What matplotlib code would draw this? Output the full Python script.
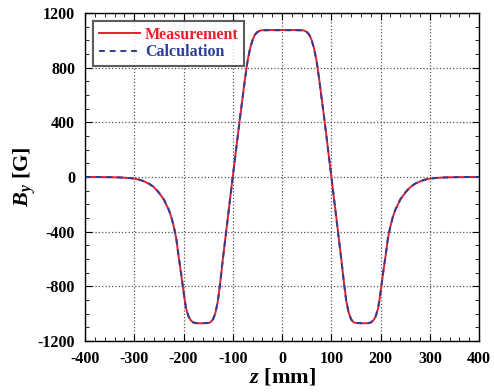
import numpy as np
import matplotlib
matplotlib.use("Agg")
import matplotlib.pyplot as plt
from matplotlib.ticker import MultipleLocator

# half profile (z >= 0), field is symmetric in z
z_half = [0, 10, 20, 30, 40, 45, 50, 55, 60, 65, 70, 75, 80, 85, 90, 95, 100,
          105, 110, 115, 120, 125, 130, 135, 140, 145, 150, 160, 170, 175, 180,
          185, 190, 195, 200, 205, 210, 215, 220, 225, 230, 240, 250, 260, 270,
          280, 290, 300, 320, 340, 360, 380, 400]
meas_half = [1075, 1075, 1075, 1075, 1074, 1070, 1062, 1042, 1002, 940, 850, 725,
             585, 445, 300, 150, 5, -145, -295, -445, -595, -755, -900, -990,
             -1040, -1062, -1068, -1070, -1070, -1069, -1065, -1050, -1020, -960,
             -840, -705, -580, -445, -360, -290, -240, -165, -115, -75, -50, -32,
             -20, -12, -5, -2, -1, 0, 0]
calc_half = [1073, 1073, 1073, 1073, 1072, 1068, 1060, 1040, 1000, 938, 848, 722,
             582, 442, 298, 148, 3, -147, -297, -447, -597, -757, -902, -992,
             -1042, -1063, -1068, -1069, -1069, -1068, -1064, -1049, -1018, -958,
             -838, -702, -577, -443, -358, -288, -238, -163, -113, -73, -48, -31,
             -19, -11, -5, -2, -1, 0, 0]

z = [-v for v in z_half[::-1]] + z_half[1:]
meas = meas_half[::-1] + meas_half[1:]
calc = calc_half[::-1] + calc_half[1:]

plt.rcParams['font.family'] = ['Liberation Serif', 'DejaVu Serif']
plt.rcParams['font.weight'] = 'bold'
plt.rcParams['axes.unicode_minus'] = False
plt.rcParams['mathtext.fontset'] = 'custom'
plt.rcParams['mathtext.it'] = 'Liberation Serif:italic:bold'
plt.rcParams['mathtext.rm'] = 'Liberation Serif:bold'

fig = plt.figure(figsize=(4.94, 3.92), dpi=100)
ax = fig.add_axes([0.172, 0.130, 0.798, 0.837])

ax.plot(z, meas, color='#e8202a', lw=1.4, label='Measurement')
ax.plot(z, calc, color='#2b3f96', lw=1.4, ls=(0, (3, 2.5)), label='Calculation')

ax.set_xlim(-400, 400)
ax.set_ylim(-1200, 1200)
ax.xaxis.set_major_locator(MultipleLocator(100))
ax.xaxis.set_minor_locator(MultipleLocator(20))
ax.yaxis.set_major_locator(MultipleLocator(400))
ax.yaxis.set_minor_locator(MultipleLocator(100))
ax.tick_params(which='both', direction='in', top=True, right=True, labelsize=11.5)
ax.tick_params(which='major', length=5, width=0.8, pad=7)
ax.tick_params(which='minor', length=3, width=0.6)
for lab in ax.get_xticklabels() + ax.get_yticklabels():
    lab.set_fontweight('bold')
ax.grid(True, which='major', ls=':', color='#555555', lw=0.9)
for s in ax.spines.values():
    s.set_linewidth(1.0)

ax.set_xlabel(r'$z$ [mm]', fontsize=16, fontweight='bold', labelpad=0)
ax.set_ylabel(r'$B_y$ [G]', fontsize=16, fontweight='bold', labelpad=0)

leg = ax.legend(loc='upper left', fontsize=11.5, frameon=True, fancybox=False,
                handlelength=2.6, handletextpad=0.3, borderpad=0.35,
                labelspacing=0.1, borderaxespad=0.5)
leg.get_frame().set_edgecolor('#333333')
leg.get_frame().set_linewidth(1.5)
for t, c in zip(leg.get_texts(), ['#e8202a', '#2b3f96']):
    t.set_color(c)
    t.set_fontweight('bold')

fig.savefig('out.png', dpi=100)
